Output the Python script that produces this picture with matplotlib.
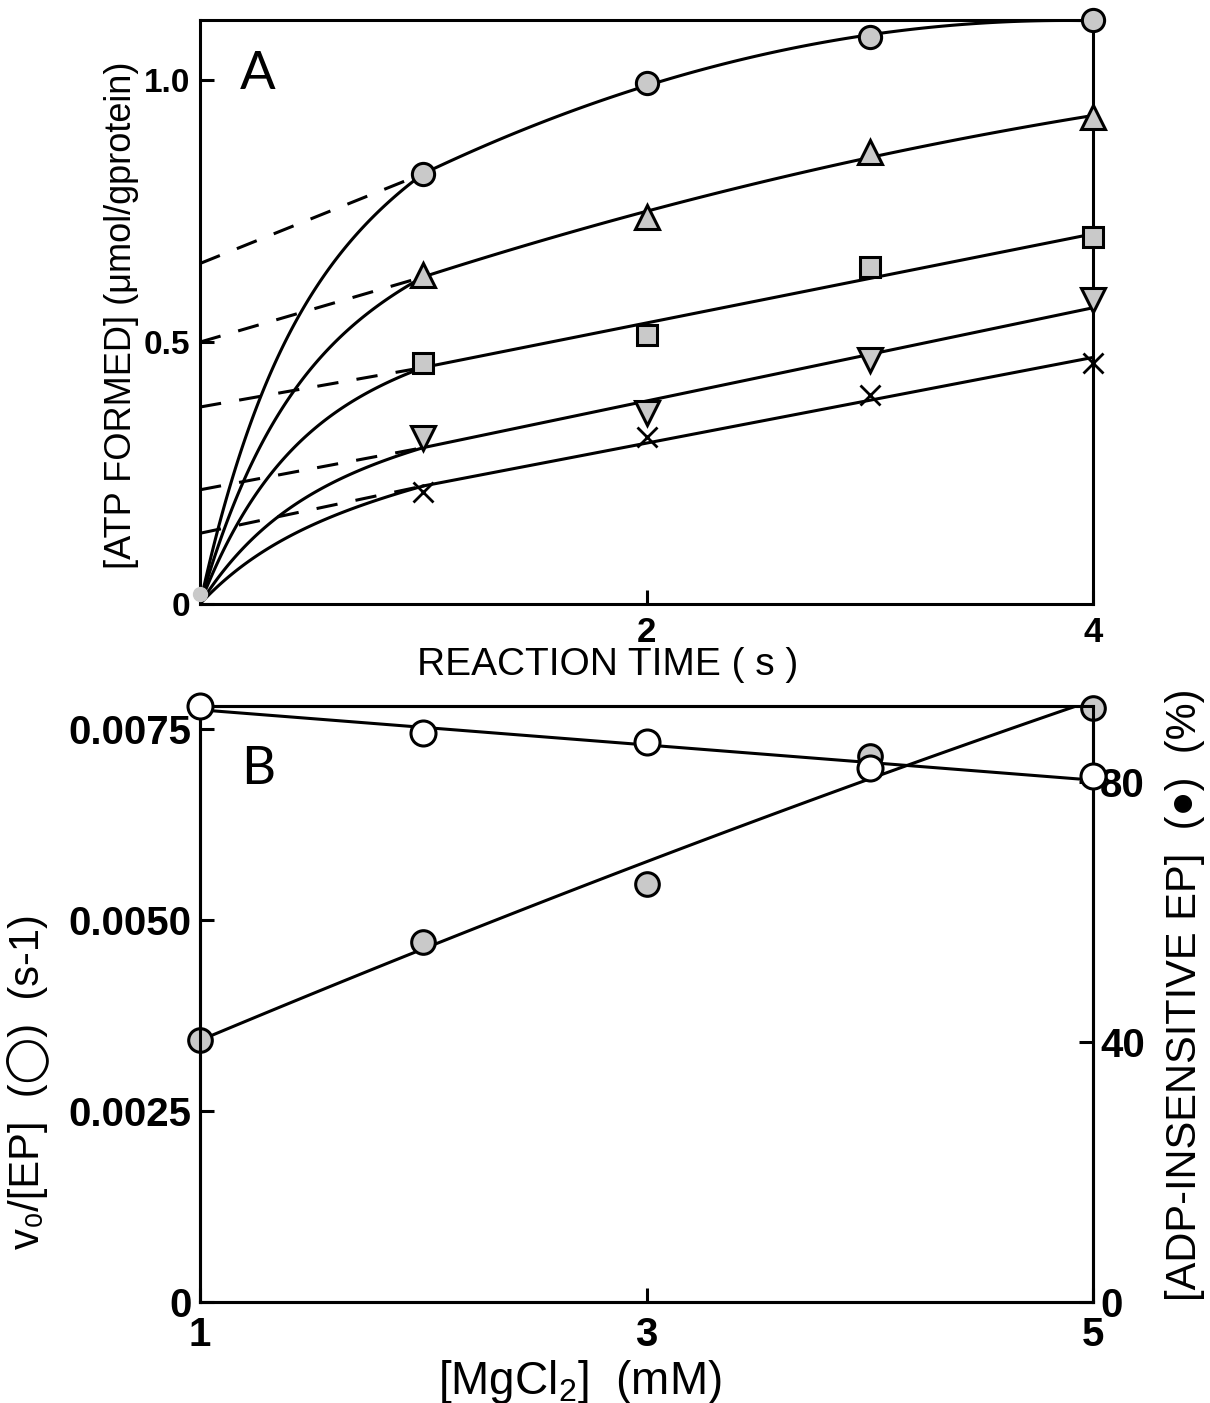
import numpy as np
import matplotlib
matplotlib.use('Agg')
import matplotlib.pyplot as plt

plt.rcParams['font.family'] = ['Liberation Sans', 'DejaVu Sans']
plt.rcParams['mathtext.fontset'] = 'custom'
plt.rcParams['mathtext.rm'] = 'Liberation Sans'
plt.rcParams['mathtext.it'] = 'Liberation Sans'

# panel A: ATP formed vs reaction time
time_pts = [1, 2, 3, 4]
atp_circle = [0.820, 0.994, 1.082, 1.115]
atp_triangle = [0.628, 0.739, 0.863, 0.929]
atp_square = [0.460, 0.513, 0.643, 0.700]
atp_down = [0.317, 0.365, 0.466, 0.580]
atp_cross = [0.214, 0.319, 0.399, 0.460]
burst_intercept = [0.65, 0.50, 0.376, 0.218, 0.135]   # dashed lines at t = 0
fit_degree = [2, 2, 1, 1, 1]
burst_rate = 2.5
origin_atp = 0.02

# panel B: vs MgCl2
mgcl2 = [1, 2, 3, 4, 5]
vo_ep = [0.00780, 0.00745, 0.00733, 0.00699, 0.00688]
adp_insensitive = [40.3, 55.4, 64.3, 84.0, 91.4]

GREY = '#c9c9c9'
LW = 2.2

fig = plt.figure(figsize=(12.1, 14.03), dpi=100)
axA = fig.add_axes([0.1653, 0.5695, 0.738, 0.4163])
axB = fig.add_axes([0.1653, 0.072, 0.738, 0.4248])


def style_axis(ax, size, pad):
    for s in ax.spines.values():
        s.set_linewidth(LW)
    ax.tick_params(direction='in', length=10, width=LW, labelsize=size, pad=pad)
    for lbl in ax.get_xticklabels() + ax.get_yticklabels():
        lbl.set_fontweight('bold')


# ---- panel A
series = [atp_circle, atp_triangle, atp_square, atp_down, atp_cross]
markers = [('o', 16), ('^', 17), ('s', 14), ('v', 17), ('x', 14)]
for y, (m, ms), A, deg in zip(series, markers, burst_intercept, fit_degree):
    coef = np.polyfit(time_pts, y, deg)
    t_late = np.linspace(1, 4, 120)
    axA.plot(t_late, np.polyval(coef, t_late), color='k', lw=LW, zorder=2)
    y1 = np.polyval(coef, 1)
    v = y1 - A
    t_early = np.linspace(0, 1, 120)
    y_early = A * (1 - np.exp(-burst_rate * t_early)) / (1 - np.exp(-burst_rate)) + v * t_early
    axA.plot(t_early, y_early, color='k', lw=LW, zorder=2)
    axA.plot([0, 1], [A, y1], color='k', lw=LW, dashes=(7, 6), zorder=2)
    if m == 'x':
        axA.plot(time_pts, y, ls='none', marker='x', ms=ms, mew=2.0, color='k',
                 zorder=4, clip_on=False)
    else:
        axA.plot(time_pts, y, ls='none', marker=m, ms=ms, mfc=GREY, mec='k', mew=2.2,
                 zorder=4, clip_on=False)
axA.plot([0], [origin_atp], ls='none', marker='o', ms=10, mfc=GREY, mec=GREY, zorder=4,
         clip_on=False)

axA.set_xlim(0, 4)
axA.set_ylim(0, 1.115)
axA.set_xticks([2, 4])
axA.set_xticklabels(['2', '4'])
axA.set_yticks([0, 0.5, 1.0])
axA.set_yticklabels(['0', '0.5', '1.0'])
style_axis(axA, 24, 7)
axA.tick_params(axis='x', pad=9, labelsize=25)
axA.set_xlabel('REACTION TIME ( s )', fontsize=28)
axA.xaxis.set_label_coords(0.456, -0.104)
axA.xaxis.label.set_va('center')
axA.set_ylabel('[ATP FORMED] (μmol/gprotein)', fontsize=26)
axA.yaxis.set_label_coords(-0.088, 0.495)
axA.yaxis.label.set_va('center')
axA.text(0.065, 0.906, 'A', transform=axA.transAxes, fontsize=38, family='Lato',
         ha='center', va='center')

# ---- panel B
axB2 = axB.twinx()
cB = np.polyfit(mgcl2, vo_ep, 1)
xs = np.linspace(1, 5, 100)
axB.plot(xs, np.polyval(cB, xs), color='k', lw=LW, zorder=2)
axB.plot(mgcl2, vo_ep, ls='none', marker='o', ms=18, mfc='white', mec='k', mew=2.2,
         zorder=5, clip_on=False)

cB2 = np.polyfit(mgcl2, adp_insensitive, 2)
axB2.plot(xs, np.polyval(cB2, xs), color='k', lw=LW, zorder=2)
axB2.plot(mgcl2, adp_insensitive, ls='none', marker='o', ms=17, mfc=GREY, mec='k',
          mew=2.2, zorder=4, clip_on=False)
axB.set_zorder(axB2.get_zorder() + 1)
axB.patch.set_visible(False)

axB.set_xlim(1, 5)
axB.set_ylim(0, 0.0078)
axB2.set_ylim(0, 91.7)
axB.set_xticks([1, 3, 5])
axB.set_xticklabels(['1', '3', '5'])
axB.set_yticks([0, 0.0025, 0.005, 0.0075])
axB.set_yticklabels(['0', '0.0025', '0.0050', '0.0075'])
axB2.set_yticks([0, 40, 80])
axB2.set_yticklabels(['0', '40', '80'])
style_axis(axB, 29, 6)
style_axis(axB2, 29, 5)
axB.tick_params(axis='x', pad=10)

axB.set_xlabel('[MgCl$_2$]  (mM)', fontsize=33)
axB.xaxis.set_label_coords(0.425, -0.134)
axB.xaxis.label.set_va('center')
axB.set_ylabel('v₀/[EP]  (◯)  (s-1)', fontsize=30)
axB.yaxis.set_label_coords(-0.193, 0.37)
axB.yaxis.label.set_va('center')
axB2.set_ylabel('[ADP-INSENSITIVE EP]  (●)  (%)', fontsize=30, rotation=90)
axB2.yaxis.set_label_coords(1.103, 0.515)
axB2.yaxis.label.set_va('center')
axB.text(0.065, 0.893, 'B', transform=axB.transAxes, fontsize=38, family='Lato',
         ha='center', va='center')

fig.savefig('out.png', dpi=100)
